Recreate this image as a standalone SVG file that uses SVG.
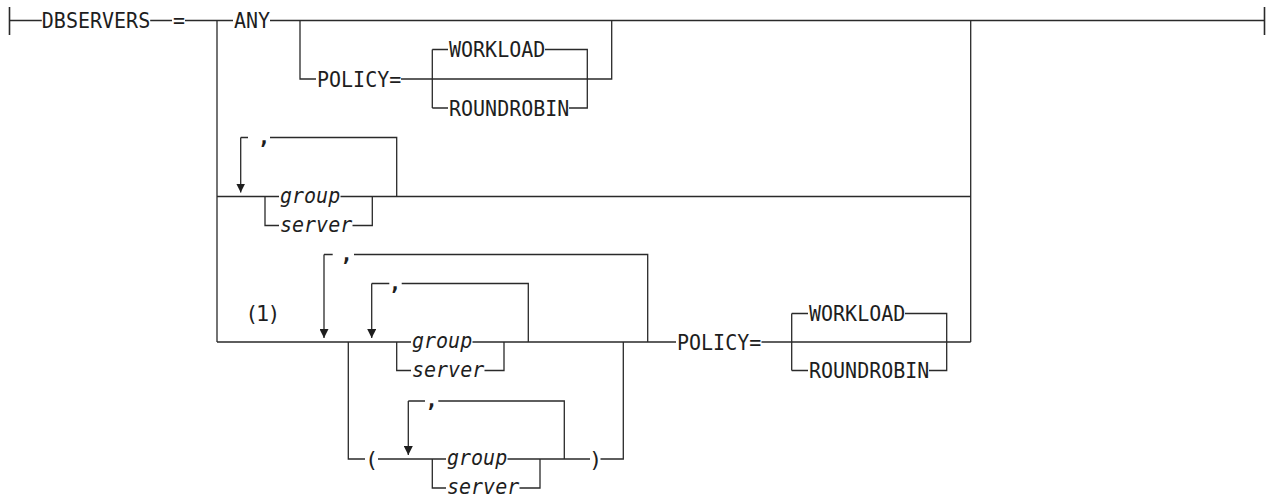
<svg xmlns="http://www.w3.org/2000/svg" width="1266" height="496" viewBox="0 0 1266 496">
<style>
.ln{stroke:#2a2a2a;stroke-width:1.3;fill:none}
.bar{stroke:#2a2a2a;stroke-width:1.6;fill:none}
.kw{font-family:"DejaVu Sans Mono",monospace;font-size:21px;fill:#1e1e1e}
.var{font-family:"DejaVu Sans Mono",monospace;font-size:21px;font-style:italic;fill:#1e1e1e}
.cm{font-family:"DejaVu Sans Mono",monospace;font-size:21px;font-weight:bold;fill:#1e1e1e;text-anchor:middle}
.pr{font-family:"DejaVu Sans Mono",monospace;font-size:22px;fill:#1e1e1e;text-anchor:middle}
.note{font-family:"DejaVu Sans",sans-serif;font-size:21px;fill:#1e1e1e}
</style>
<defs>
<marker id="arr" viewBox="0 0 10 10" refX="10" refY="5" markerUnits="userSpaceOnUse" markerWidth="9" markerHeight="9" orient="auto">
<path d="M0,0 L10,5 L0,10 z" fill="#1e1e1e"/>
</marker>
</defs>
<rect width="1266" height="496" fill="#fff"/>
<g id="connectors">
<path class="bar" d="M9.5,7 V35 M1264.5,7 V35"/>
<path class="ln" d="M9.5,20.5 H41.8 M150.2,20.5 H172 M185,20.5 H233 M270,20.5 H1264.5"/>
<path class="ln" d="M217,20.5 V342 M970.7,20.5 V342"/>
<path class="ln" d="M300,20.5 V79 H316 M401,79 H611.7 V20.5"/>
<path class="ln" d="M432.3,49.5 V108 M432.3,49.5 H448 M432.3,108 H448 M545,49.5 H587.3 V108 H569"/>
<path class="ln" d="M217,196.5 H279 M340.5,196.5 H970.7"/>
<path class="ln" d="M265,196.5 V225.5 H279 M352.5,225.5 H372.3 V196.5"/>
<path class="ln" d="M396.7,196.5 V137.5 H270 M248,137.5 H240.7"/>
<path class="ln" d="M240.7,137.5 V192.5" marker-end="url(#arr)"/>
<path class="ln" d="M217,342 H411 M472.5,342 H676"/>
<path class="ln" d="M396.7,342 V370.5 H411 M484.5,370.5 H504 V342"/>
<path class="ln" d="M528.3,342 V283.5 H401.7 M389.3,283.5 H371.7"/>
<path class="ln" d="M371.7,283.5 V338" marker-end="url(#arr)"/>
<path class="ln" d="M647.7,342 V254.5 H354 M332.7,254.5 H324"/>
<path class="ln" d="M324,254.5 V338" marker-end="url(#arr)"/>
<path class="ln" d="M348.3,342 V459 H365 M378,459 H446 M507.5,459 H590 M600.5,459 H623.3 V342"/>
<path class="ln" d="M432.3,459 V488 H446 M519.5,488 H540 V459"/>
<path class="ln" d="M564.3,459 V401 H438.3 M425,401 H408.3"/>
<path class="ln" d="M408.3,401 V455" marker-end="url(#arr)"/>
<path class="ln" d="M761.5,342 H970.7"/>
<path class="ln" d="M791.7,313.5 V370.5 M791.7,313.5 H808 M791.7,370.5 H808 M905,313.5 H946.7 V370.5 H929"/>
</g>
<g id="n-dbservers"><text class="kw" x="41.8" y="28" textLength="108.4" lengthAdjust="spacingAndGlyphs">DBSERVERS</text></g>
<g id="n-eq"><text class="kw" x="173" y="28" textLength="12" lengthAdjust="spacingAndGlyphs">=</text></g>
<g id="n-any"><text class="kw" x="234" y="28" textLength="36.1" lengthAdjust="spacingAndGlyphs">ANY</text></g>
<g id="n-policy1"><text class="kw" x="317" y="86.5" textLength="84.3" lengthAdjust="spacingAndGlyphs">POLICY=</text></g>
<g id="n-workload1"><text class="kw" x="449" y="57" textLength="96.3" lengthAdjust="spacingAndGlyphs">WORKLOAD</text></g>
<g id="n-roundrobin1"><text class="kw" x="449" y="115.5" textLength="120.4" lengthAdjust="spacingAndGlyphs">ROUNDROBIN</text></g>
<g id="n-group1"><text class="var" x="280" y="202.5" textLength="60.2" lengthAdjust="spacingAndGlyphs">group</text></g>
<g id="n-server1"><text class="var" x="280" y="231.5" textLength="72.2" lengthAdjust="spacingAndGlyphs">server</text></g>
<g id="n-comma1"><text class="cm" x="264" y="143.5">,</text></g>
<g id="n-note"><text class="note" x="248" y="321">(1)</text></g>
<g id="n-comma2"><text class="cm" x="346.7" y="260.5">,</text></g>
<g id="n-comma3"><text class="cm" x="395" y="289.5">,</text></g>
<g id="n-group2"><text class="var" x="412" y="348" textLength="60.2" lengthAdjust="spacingAndGlyphs">group</text></g>
<g id="n-server2"><text class="var" x="412" y="376.5" textLength="72.2" lengthAdjust="spacingAndGlyphs">server</text></g>
<g id="n-lparen"><text class="pr" x="371.5" y="466.5">(</text></g>
<g id="n-comma4"><text class="cm" x="431.7" y="407">,</text></g>
<g id="n-group3"><text class="var" x="447" y="465" textLength="60.2" lengthAdjust="spacingAndGlyphs">group</text></g>
<g id="n-server3"><text class="var" x="447" y="493.5" textLength="72.2" lengthAdjust="spacingAndGlyphs">server</text></g>
<g id="n-rparen"><text class="pr" x="595.5" y="466.5">)</text></g>
<g id="n-policy2"><text class="kw" x="677" y="349.5" textLength="84.3" lengthAdjust="spacingAndGlyphs">POLICY=</text></g>
<g id="n-workload2"><text class="kw" x="809" y="321" textLength="96.3" lengthAdjust="spacingAndGlyphs">WORKLOAD</text></g>
<g id="n-roundrobin2"><text class="kw" x="809" y="378" textLength="120.4" lengthAdjust="spacingAndGlyphs">ROUNDROBIN</text></g>
</svg>
